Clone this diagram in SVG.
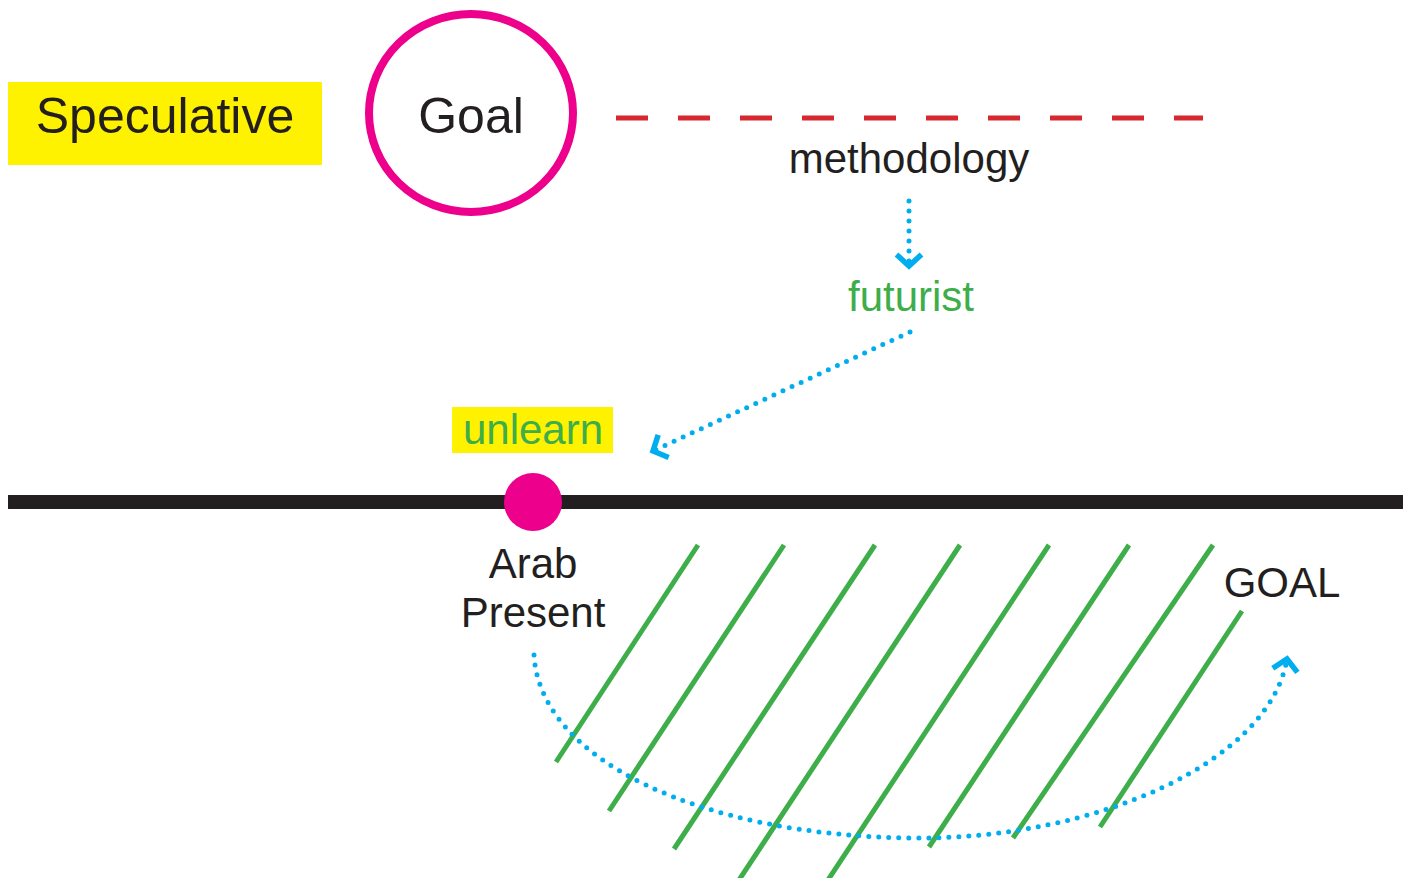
<svg xmlns="http://www.w3.org/2000/svg" width="1411" height="878" viewBox="0 0 1411 878">
<style>
text{font-family:"Liberation Sans",Arial,sans-serif;fill:#231F20}
.g{fill:#3DAE49}
.hatch line{stroke:#3DAE49;stroke-width:5}
.dot{fill:none;stroke:#00AEEF;stroke-width:5;stroke-linecap:round;stroke-dasharray:0 10}
</style>
<defs>
<marker id="chev" markerUnits="userSpaceOnUse" markerWidth="40" markerHeight="40" viewBox="-20 -20 40 40" refX="0" refY="0" orient="auto" overflow="visible">
<path d="M-11.5,-12.5 L0,0 L-11.5,12.5" fill="none" stroke="#00AEEF" stroke-width="5.5"/>
</marker>
</defs>
<rect width="1411" height="878" fill="#fff"/>
<g id="speculative">
<rect x="8" y="82" width="314" height="83" fill="#FFF200"/>
<text x="165" y="133" font-size="50" text-anchor="middle">Speculative</text>
</g>
<g id="goal-circle">
<ellipse cx="471" cy="113" rx="102" ry="99" fill="#fff" stroke="#EC008C" stroke-width="8"/>
<text x="471" y="133" font-size="50" text-anchor="middle">Goal</text>
</g>
<g id="methodology">
<line x1="616" y1="118" x2="1203" y2="118" stroke="#D7282F" stroke-width="5" stroke-dasharray="32 30"/>
<text x="909" y="173" font-size="42" text-anchor="middle">methodology</text>
</g>
<g id="futurist">
<text class="g" x="911" y="311" font-size="42" text-anchor="middle">futurist</text>
</g>
<g id="unlearn">
<rect x="452" y="407" width="161" height="46" fill="#FFF200"/>
<text class="g" x="533" y="444" font-size="42" text-anchor="middle">unlearn</text>
</g>
<g id="timeline">
<line x1="8" y1="502" x2="1403" y2="502" stroke="#231F20" stroke-width="14"/>
</g>
<g id="arab-present">
<circle cx="533" cy="502" r="29" fill="#EC008C"/>
<text x="533" y="578" font-size="42" text-anchor="middle">Arab</text>
<text x="533" y="627" font-size="42" text-anchor="middle">Present</text>
</g>
<g id="hatch" class="hatch">
<line x1="698" y1="545" x2="556" y2="762"/>
<line x1="784" y1="545" x2="609" y2="811"/>
<line x1="875" y1="545" x2="674" y2="849"/>
<line x1="960" y1="545" x2="739" y2="880"/>
<line x1="1049" y1="545" x2="828" y2="880"/>
<line x1="1129" y1="545" x2="929" y2="847"/>
<line x1="1213" y1="545" x2="1013" y2="838"/>
<line x1="1242" y1="611" x2="1100" y2="827"/>
</g>
<g id="goal-label">
<text x="1282" y="597" font-size="42" text-anchor="middle">GOAL</text>
</g>
<g id="connectors">
<path class="dot" d="M909,201 L909,266" marker-end="url(#chev)"/>
<path class="dot" d="M910,332 L653,451" marker-end="url(#chev)"/>
<path class="dot" d="M534,655 C540,760 700,835 910,838 C1100,840 1270,760 1287,659" marker-end="url(#chev)"/>
</g>
</svg>
